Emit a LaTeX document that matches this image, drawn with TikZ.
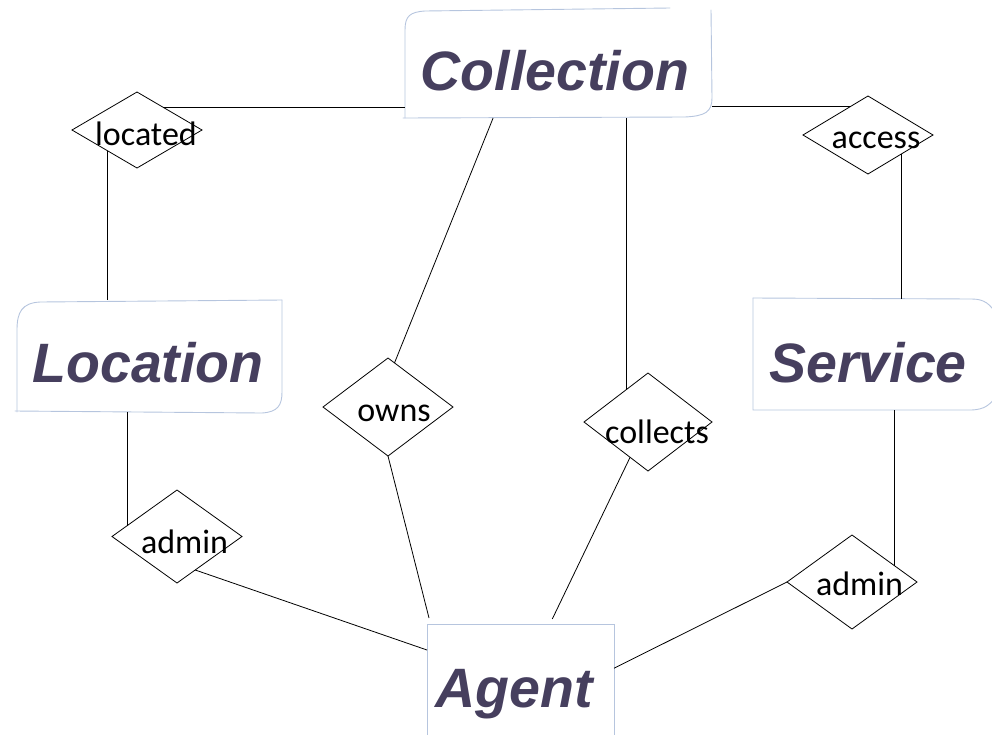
\documentclass[tikz,border=0pt]{standalone}
\usepackage{fontspec}
\setmainfont{Carlito}
\newfontfamily\entfont{Liberation Sans}
\usetikzlibrary{shapes.geometric,calc}
\definecolor{enttext}{RGB}{70,63,94}
\definecolor{entline}{RGB}{182,197,222}

\begin{document}
\begin{tikzpicture}[x=1pt,y=-1pt,
  rel/.style={diamond,draw=black,line width=0.8pt,inner sep=0pt,outer sep=0pt},
  rellabel/.style={anchor=base,inner sep=0pt,font=\fontsize{34}{40}\selectfont},
  entbox/.style={rectangle,inner sep=0pt,outer sep=0pt},
  entlabel/.style={anchor=base,inner sep=0pt,text=enttext,
    font=\entfont\bfseries\itshape\fontsize{55.5}{66}\selectfont},
  border/.style={draw=entline,line width=0.9pt,line cap=round},
  link/.style={draw=black,line width=0.8pt}]
\useasboundingbox (0,0) rectangle (992,734);
\clip (0,0) rectangle (992,734);

% entity frames (layout boxes)
\node[entbox,minimum width=307pt,minimum height=110pt] (collbox)  at (558.5,63) {};
\node[entbox,minimum width=265pt,minimum height=112pt] (locbox)   at (149.5,356) {};
\node[entbox,minimum width=257pt,minimum height=111pt] (servbox)  at (881.5,354.5) {};
\node[entbox,minimum width=187pt,minimum height=130pt] (agentbox) at (520.5,689) {};

% hand-drawn outlines of the entity frames
\draw[border] (405,118) -- (405,30) .. controls (405,16) and (410,12) .. (425,11) -- (670,8);
\draw[border] (711,10) -- (712,98) .. controls (712,112) and (705,116) .. (685,117) -- (403,118);
\draw[border] (282,300) -- (40,302) .. controls (22,303) and (17,312) .. (17,330) -- (17,412);
\draw[border] (15,411) -- (262,413) .. controls (278,412) and (282,405) .. (282,392) -- (282,300);
\draw[border] (753,298) -- (753,410) -- (970,410) .. controls (985,410) and (990,404) .. (995,398);
\draw[border] (753,298) -- (972,299) .. controls (985,299) and (990,305) .. (995,312);
\draw[border] (427,740) -- (427,624) -- (614,624) -- (614,740);

% entity names
\node[entlabel] (colltext)  at (555,90)  {Collection};
\node[entlabel] (loctext)   at (148,382) {Location};
\node[entlabel] (servtext)  at (868,382) {Service};
\node[entlabel] (agenttext) at (514,707) {Agent};

% relationships
\node[rel,minimum width=130pt,minimum height=76pt] (locd) at (137,130) {};
\node[rel,minimum width=130pt,minimum height=78pt] (accd) at (868,135) {};
\node[rel,minimum width=130pt,minimum height=98pt] (ownd) at (388,407) {};
\node[rel,minimum width=128pt,minimum height=98pt] (cold) at (648,422) {};
\node[rel,minimum width=130pt,minimum height=93pt] (admL) at (177,536.5) {};
\node[rel,minimum width=130pt,minimum height=94pt] (admR) at (852,582) {};

\node[rellabel] (loct) at (146,145)   {located};
\node[rellabel] (acct) at (876,148)   {access};
\node[rellabel] (ownt) at (394,421.5) {owns};
\node[rellabel] (colt) at (657,443)   {collects};
\node[rellabel] (adLt) at (184.5,553) {admin};
\node[rellabel] (adRt) at (859.5,595) {admin};

% connectors
\coordinate (c1) at ($(locd.north)!0.4!(locd.east)$);
\draw[link] (c1) -- (c1 -| collbox.west);
\coordinate (c2) at ($(accd.north)!0.27!(accd.west)$);
\draw[link] (c2 -| collbox.east) -- (c2);
\draw[link] ($(collbox.south west)!0.287!(collbox.south east)$) -- ($(ownd.north)!0.1!(ownd.east)$);
\coordinate (c3) at ($(cold.north)!0.33!(cold.west)$);
\draw[link] (c3 |- collbox.south) -- (c3);
\coordinate (c4) at ($(locd.south)!0.46!(locd.west)$);
\draw[link] (c4) -- (c4 |- locbox.north);
\coordinate (c5) at ($(accd.south)!0.52!(accd.east)$);
\draw[link] (c5) -- (c5 |- servbox.north);
\coordinate (c6) at ($(admL.north)!0.77!(admL.west)$);
\draw[link] (c6 |- locbox.south) -- (c6);
\draw[link] ($(admL.south)!0.28!(admL.east)$) -- ($(agentbox.north west)!0.2!(agentbox.south west)$);
\draw[link] (ownd.south) -- ($(agentbox.north west)+(2,-6)$);
\draw[link] ($(cold.south)!0.28!(cold.west)$) -- ($(agentbox.north west)!0.67!(agentbox.north east)+(0,-5)$);
\coordinate (c7) at ($(admR.north)!0.65!(admR.east)$);
\draw[link] (c7 |- servbox.south) -- (c7);
\draw[link] (admR.west) -- ($(agentbox.north east)!0.34!(agentbox.south east)$);
\end{tikzpicture}
\end{document}
